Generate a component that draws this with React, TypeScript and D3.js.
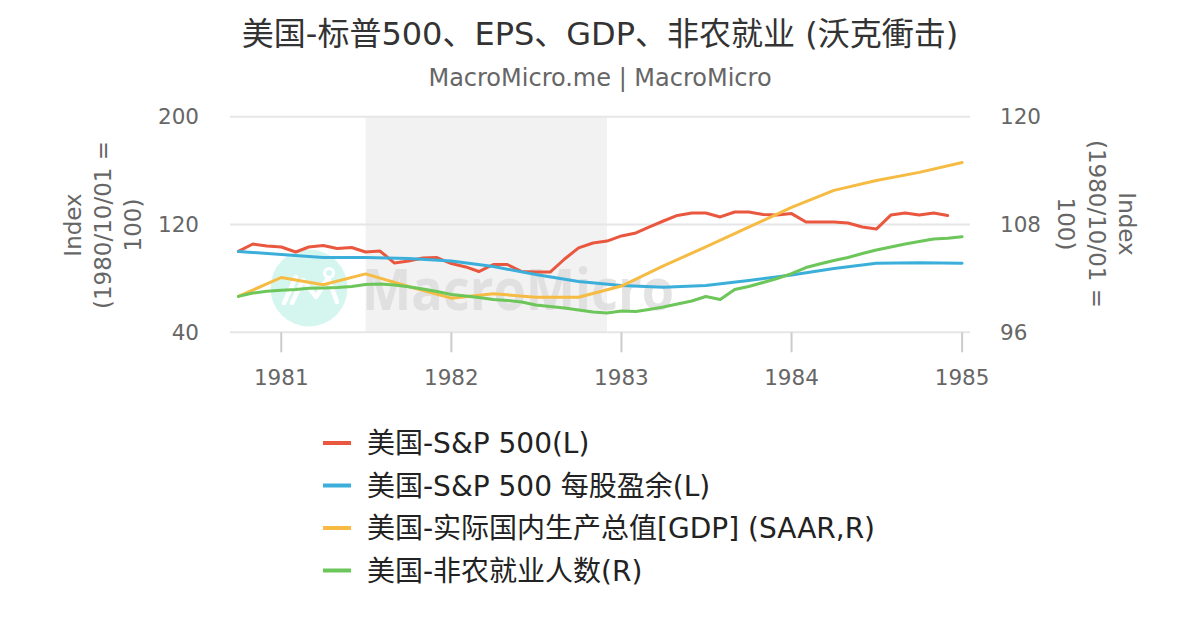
import * as d3 from 'd3'

const W = 1200
const H = 630

// monthly dates, 1980-10 .. 1985-01
const START = new Date(1980, 9, 1)
const monthAt = (i: number) => d3.timeMonth.offset(START, i)

// S&P 500 (L), monthly 1980-10 .. 1984-12
const spx = [
  100, 105.5, 104.0, 103.3, 99.6, 103.3, 104.4, 102.2, 102.9, 99.6, 100.3, 91.4,
  92.9, 95.1, 95.5, 91.0, 88.5, 85.1, 90.3, 90.3, 85.1, 84.7, 84.7, 94.4,
  102.6, 106.3, 107.7, 111.5, 113.7, 118.1, 122.6, 126.7, 128.5, 128.5, 125.6, 129.3,
  129.3, 127.4, 127.0, 128.1, 121.8, 121.8, 121.8, 121.1, 118.1, 116.6, 127.0, 128.5,
  127.0, 128.5, 126.7,
]

// S&P 500 EPS (L), quarterly 1980-10 .. 1985-01
const eps = [
  100, 97.7, 95.5, 95.6, 94.8, 92.9, 88.8, 82.9, 77.7,
  74.7, 73.4, 74.7, 78.4, 82.5, 87.3, 91.2, 91.6, 91.2,
]

// Real GDP (SAAR, R), quarterly 1980-10 .. 1985-01
const gdp = [
  100, 102.1, 101.3, 102.5, 101.1, 99.8, 100.3, 99.9, 99.9,
  101.15, 103.4, 105.5, 107.7, 109.9, 111.8, 112.9, 113.8, 114.9,
]

// Nonfarm payrolls (R), monthly 1980-10 .. 1985-01
const nfp = [
  100.0, 100.37, 100.56, 100.67, 100.76, 100.9, 100.93, 100.99, 101.1, 101.32, 101.38, 101.26,
  101.08, 100.82, 100.54, 100.21, 100.04, 99.87, 99.65, 99.54, 99.37, 99.04, 98.87, 98.7,
  98.48, 98.26, 98.15, 98.37, 98.32, 98.54, 98.82, 99.15, 99.48, 99.98, 99.65, 100.76,
  101.1, 101.54, 101.99, 102.54, 103.21, 103.6, 103.99, 104.33, 104.77, 105.16, 105.49, 105.83,
  106.11, 106.38, 106.46, 106.64,
]

const leftTicks = [40, 120, 200]
const rightTicks = [96, 108, 120]
const yearTicks = [1981, 1982, 1983, 1984, 1985]
const recession = [new Date(1981, 6, 1), new Date(1982, 11, 1)]

const series = [
  { name: '美国-S&P 500(L)', color: '#E9573F', axis: 'L', step: 1, values: spx },
  { name: '美国-S&P 500 每股盈余(L)', color: '#3BAFDA', axis: 'L', step: 3, values: eps },
  { name: '美国-实际国内生产总值[GDP] (SAAR,R)', color: '#F6BB42', axis: 'R', step: 3, values: gdp },
  { name: '美国-非农就业人数(R)', color: '#6CC65A', axis: 'R', step: 1, values: nfp },
]

const FONT = "'DejaVu Sans', 'Noto Sans CJK SC', sans-serif"

export default function App() {
  const plot = { left: 230, right: 970, top: 116.7, bottom: 332.3 }

  const x = d3.scaleTime()
    .domain([START, new Date(1985, 0, 1)])
    .range([238.4, 962.1])
  const yL = d3.scaleLinear().domain([40, 200]).range([plot.bottom, plot.top])
  const yR = d3.scaleLinear().domain([96, 120]).range([plot.bottom, plot.top])

  const paths = series.map(s => {
    const y = s.axis === 'L' ? yL : yR
    const line = d3.line<number>()
      .x((_, i) => x(monthAt(i * s.step)))
      .y(v => y(v))
    return { ...s, d: line(s.values) ?? '' }
  })

  return (
    <svg width={W} height={H} style={{ position: 'absolute', left: 0, top: 0, background: '#fff' }}
      fontFamily={FONT}>
      <rect width={W} height={H} fill="#fff" />

      <text x={600} y={45} textAnchor="middle" fontSize={32} fill="#333">
        美国-标普500、EPS、GDP、非农就业 (沃克衝击)
      </text>
      <text x={600} y={86} textAnchor="middle" fontSize={24} fill="#666">
        MacroMicro.me | MacroMicro
      </text>

      {/* recession band */}
      <rect x={x(recession[0])} y={plot.top} width={x(recession[1]) - x(recession[0])}
        height={plot.bottom - plot.top} fill="#f2f2f2" />

      {/* grid */}
      {leftTicks.map(t => (
        <line key={t} x1={plot.left} x2={plot.right} y1={yL(t)} y2={yL(t)}
          stroke="#e6e6e6" strokeWidth={2} />
      ))}

      {/* watermark */}
      <g>
        <circle cx={309} cy={288} r={38.5} fill="#d4f6ef" />
        <path d="M284,303 L296,277 M292,303 L303,280 L316,297 L328,278 L337,302"
          fill="none" stroke="#fff" strokeWidth={4.5} strokeLinecap="round" strokeLinejoin="round" />
        <circle cx={329} cy={273} r={4.5} fill="none" stroke="#fff" strokeWidth={3} />
        <text x={362} y={310} fontSize={58} fontWeight="bold" fill="#d9d9d9" fillOpacity={0.75}
          textLength={312} lengthAdjust="spacingAndGlyphs" fontFamily="'Open Sans', sans-serif">
          MacroMicro
        </text>
      </g>

      {/* x axis ticks */}
      {yearTicks.map(yr => {
        const px = x(new Date(yr, 0, 1))
        return (
          <g key={yr}>
            <line x1={px} x2={px} y1={plot.bottom} y2={plot.bottom + 20} stroke="#ccc" strokeWidth={2} />
            <text x={px} y={385} textAnchor="middle" fontSize={21.5} fill="#666">{yr}</text>
          </g>
        )
      })}

      {/* left axis */}
      {leftTicks.map(t => (
        <text key={t} x={199} y={yL(t) + 7.5} textAnchor="end" fontSize={21.5} fill="#666">{t}</text>
      ))}
      <g transform="translate(0,225)" fontSize={23} fill="#666" textAnchor="middle">
        <text transform="translate(81,0) rotate(-90)">Index</text>
        <text transform="translate(111,0) rotate(-90)">(1980/10/01 =</text>
        <text transform="translate(141,0) rotate(-90)">100)</text>
      </g>

      {/* right axis */}
      {rightTicks.map(t => (
        <text key={t} x={1000} y={yR(t) + 7.5} textAnchor="start" fontSize={21.5} fill="#666">{t}</text>
      ))}
      <g transform="translate(0,224)" fontSize={23} fill="#666" textAnchor="middle">
        <text transform="translate(1119,0) rotate(90)">Index</text>
        <text transform="translate(1089,0) rotate(90)">(1980/10/01 =</text>
        <text transform="translate(1058,0) rotate(90)">100)</text>
      </g>

      {/* lines */}
      {paths.map(p => (
        <path key={p.name} d={p.d} fill="none" stroke={p.color} strokeWidth={3}
          strokeLinejoin="round" strokeLinecap="round" />
      ))}

      {/* legend */}
      {series.map((s, i) => {
        const ly = 443 + i * 42.5
        return (
          <g key={s.name}>
            <line x1={323} x2={351} y1={ly} y2={ly} stroke={s.color} strokeWidth={4} />
            <text x={367} y={ly + 10} fontSize={28} fill="#222">{s.name}</text>
          </g>
        )
      })}
    </svg>
  )
}
